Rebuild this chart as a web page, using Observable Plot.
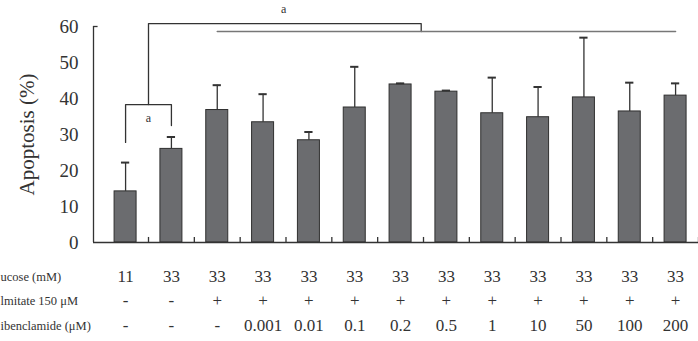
<!DOCTYPE html>
<html><head><meta charset="utf-8">
<script src="https://cdn.jsdelivr.net/npm/d3@7"></script>
<script src="https://cdn.jsdelivr.net/npm/@observablehq/plot@0.6"></script>
<style>
body{margin:0;background:#fff;}
#chart svg{display:block;}
</style>
</head><body><div id="chart"></div>
<script>
// Data
const glucose = ["11","33","33","33","33","33","33","33","33","33","33","33","33"];
const palmitate = ["-","-","+","+","+","+","+","+","+","+","+","+","+"];
const glibenclamide = ["-","-","-","0.001","0.01","0.1","0.2","0.5","1","10","50","100","200"];
const apoptosis = [14.2, 26.0, 36.8, 33.4, 28.4, 37.5, 43.9, 41.9, 35.9, 34.8, 40.3, 36.4, 40.8];
const errorTop = [22.2, 29.3, 43.7, 41.2, 30.7, 48.8, 44.2, 42.2, 45.8, 43.2, 56.9, 44.4, 44.2];
const rowLabels = ["ucose (mM)", "lmitate 150 \u03bcM", "ibenclamide (\u03bcM)"];
const yTicks = [0, 10, 20, 30, 40, 50, 60];
const sigLabel = "a";
// significance brackets (x in bar index units, y in %)
const smallBracket = [[0, 27.8], [0, 38.3], [1, 38.3], [1, 32.5]];
const bigBracket = [[0.5, 38.3], [0.5, 60.8], [6.45, 60.8], [6.45, 58.6]];
const groupLine = [[2, 58.6], [12, 58.6]];

const idx = apoptosis.map((v, i) => i);
const bars = idx.map(i => ({i, v: apoptosis[i], e: errorTop[i]}));
const sepTicks = idx.map(i => i + 0.5);

const serif = "Liberation Serif, Times New Roman, serif";
const ink = "#333";

const rows = [glucose, palmitate, glibenclamide];
const rowDy = [34, 58, 83];

const marks = [
  // bars
  Plot.rectY(bars, {x1: d => d.i - 0.24, x2: d => d.i + 0.24, y1: 0, y2: "v", fill: "#6b6c6f", stroke: "#2f2f2f", strokeWidth: 1}),
  // error bars
  Plot.ruleX(bars, {x: "i", y1: "v", y2: "e", stroke: ink, strokeWidth: 1.3}),
  Plot.ruleY(bars, {y: "e", x1: d => d.i - 0.09, x2: d => d.i + 0.09, stroke: ink, strokeWidth: 2}),
  // axes lines
  Plot.ruleX([-0.7], {y1: 0, y2: 60, stroke: ink, strokeWidth: 1.3}),
  Plot.ruleY([60], {x1: -0.7, x2: -0.6, stroke: ink, strokeWidth: 1.3}),
  Plot.ruleY([0], {x1: -0.7, x2: 12.5, stroke: ink, strokeWidth: 1.3}),
  Plot.ruleX(sepTicks, {x: d => d, y1: 0, y2: 1.4, stroke: ink, strokeWidth: 1.3}),
  // y tick labels
  Plot.text(yTicks, {x: -0.7, y: d => d, text: d => String(d), textAnchor: "end", dx: -15, fontSize: 19, fontFamily: serif, fill: ink}),
  // y label
  Plot.text(["Apoptosis (%)"], {frameAnchor: "left", dx: -66, text: d => d, textAnchor: "middle", rotate: -90, fontSize: 21, fontFamily: serif, fill: ink}),
  // brackets
  Plot.line(smallBracket, {x: d => d[0], y: d => d[1], stroke: ink, strokeWidth: 1.3}),
  Plot.line(bigBracket, {x: d => d[0], y: d => d[1], stroke: ink, strokeWidth: 1.3}),
  Plot.line(groupLine, {x: d => d[0], y: d => d[1], stroke: "#777", strokeWidth: 1.5}),
  Plot.text([sigLabel], {x: 0.5, y: 34.6, text: d => d, fontSize: 12, fontFamily: serif, fill: ink}),
  Plot.text([sigLabel], {x: 3.45, y: 64.8, text: d => d, fontSize: 12, fontFamily: serif, fill: ink}),
];
rows.forEach((row, r) => {
  marks.push(Plot.text(row, {x: (d, i) => i, y: 0, text: d => d, dy: rowDy[r], fontSize: 17, fontFamily: serif, fill: ink}));
  marks.push(Plot.text([rowLabels[r]], {frameAnchor: "left", y: 0, dx: -93, dy: rowDy[r], textAnchor: "start", text: d => d, fontSize: 12.5, fontFamily: serif, fill: ink}));
});

const chart = Plot.plot({
  width: 698,
  height: 341,
  marginLeft: 93,
  marginRight: 0,
  marginTop: 26,
  marginBottom: 99,
  x: {type: "linear", domain: [-0.7, 12.5], axis: null},
  y: {domain: [0, 60], axis: null},
  style: {background: "#fff", overflow: "visible"},
  marks
});
document.getElementById("chart").appendChild(chart);
</script>
</body></html>
